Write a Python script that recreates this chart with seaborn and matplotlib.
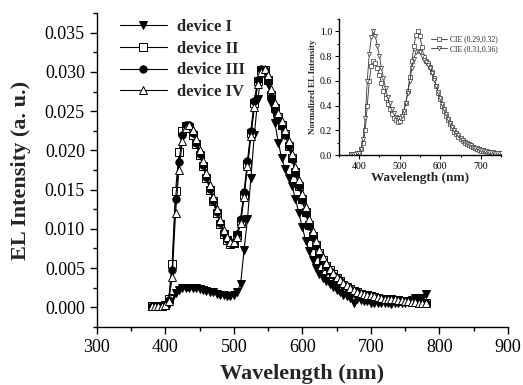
"""
EL spectra of devices I-IV with normalized CIE inset
"""

import numpy as np
import matplotlib
matplotlib.use("Agg")
import matplotlib.pyplot as plt
import matplotlib.ticker as mticker
import seaborn as sns

# ── Data ─────────────────────────────────────────────────────────────────────
wl = list(range(380, 785, 5))   # 380 ... 780 nm

dev1 = [0.0001, 0.0001, 0.0001, 0.0001, 0.0002, 0.0004, 0.0012, 0.0018, 0.0022, 0.0024,
        0.0025, 0.0025, 0.0024, 0.0024, 0.0023, 0.0022, 0.0021, 0.0020, 0.0019, 0.0017,
        0.0016, 0.0015, 0.0014, 0.0014, 0.0016, 0.0020, 0.0030, 0.0073, 0.0113, 0.0165,
        0.0220, 0.0265, 0.0295, 0.0302, 0.0285, 0.0260, 0.0235, 0.0210, 0.0190, 0.0176,
        0.0165, 0.0155, 0.0138, 0.0120, 0.0102, 0.0085, 0.0072, 0.0060, 0.0050, 0.0043,
        0.0037, 0.0033, 0.0030, 0.0026, 0.0022, 0.0019, 0.0016, 0.0014, 0.0012, 0.0005,
        0.0010, 0.0009, 0.0008, 0.0008, 0.0006, 0.0006, 0.0005, 0.0005, 0.0005, 0.0005,
        0.0004, 0.0005, 0.0005, 0.0005, 0.0006, 0.0007, 0.0009, 0.0012, 0.0009, 0.0012,
        0.0017]

dev2 = [0.0002, 0.0002, 0.0002, 0.0002, 0.0003, 0.0010, 0.0055, 0.0148, 0.0198, 0.0225,
        0.0231, 0.0230, 0.0220, 0.0208, 0.0194, 0.0180, 0.0165, 0.0150, 0.0135, 0.0120,
        0.0106, 0.0094, 0.0086, 0.0081, 0.0082, 0.0092, 0.0110, 0.0143, 0.0183, 0.0222,
        0.0260, 0.0288, 0.0302, 0.0302, 0.0290, 0.0270, 0.0254, 0.0242, 0.0232, 0.0221,
        0.0206, 0.0190, 0.0172, 0.0155, 0.0138, 0.0121, 0.0105, 0.0091, 0.0079, 0.0069,
        0.0060, 0.0053, 0.0047, 0.0042, 0.0037, 0.0033, 0.0029, 0.0026, 0.0023, 0.0021,
        0.0019, 0.0017, 0.0016, 0.0015, 0.0014, 0.0013, 0.0012, 0.0011, 0.0011, 0.0010,
        0.0010, 0.0009, 0.0009, 0.0008, 0.0008, 0.0008, 0.0007, 0.0007, 0.0006, 0.0006,
        0.0006]

dev3 = [0.0002, 0.0002, 0.0002, 0.0002, 0.0003, 0.0009, 0.0047, 0.0138, 0.0185, 0.0220,
        0.0232, 0.0232, 0.0222, 0.0210, 0.0195, 0.0181, 0.0166, 0.0151, 0.0136, 0.0121,
        0.0107, 0.0095, 0.0087, 0.0082, 0.0083, 0.0094, 0.0113, 0.0147, 0.0186, 0.0225,
        0.0263, 0.0290, 0.0304, 0.0303, 0.0289, 0.0268, 0.0252, 0.0241, 0.0231, 0.0220,
        0.0205, 0.0189, 0.0171, 0.0154, 0.0137, 0.0120, 0.0104, 0.0090, 0.0078, 0.0068,
        0.0059, 0.0052, 0.0046, 0.0041, 0.0037, 0.0033, 0.0029, 0.0026, 0.0023, 0.0021,
        0.0019, 0.0017, 0.0016, 0.0015, 0.0014, 0.0013, 0.0012, 0.0011, 0.0011, 0.0010,
        0.0010, 0.0009, 0.0009, 0.0008, 0.0008, 0.0008, 0.0007, 0.0007, 0.0006, 0.0006,
        0.0006]

dev4 = [0.0002, 0.0002, 0.0002, 0.0002, 0.0003, 0.0008, 0.0038, 0.0120, 0.0175, 0.0212,
        0.0228, 0.0232, 0.0226, 0.0214, 0.0200, 0.0186, 0.0171, 0.0156, 0.0140, 0.0125,
        0.0111, 0.0098, 0.0089, 0.0083, 0.0083, 0.0090, 0.0108, 0.0140, 0.0180, 0.0218,
        0.0255, 0.0284, 0.0300, 0.0304, 0.0296, 0.0278, 0.0260, 0.0247, 0.0237, 0.0226,
        0.0212, 0.0196, 0.0179, 0.0162, 0.0145, 0.0128, 0.0112, 0.0097, 0.0084, 0.0073,
        0.0064, 0.0056, 0.0049, 0.0044, 0.0039, 0.0035, 0.0031, 0.0028, 0.0025, 0.0022,
        0.0020, 0.0018, 0.0017, 0.0016, 0.0015, 0.0014, 0.0013, 0.0012, 0.0011, 0.0011,
        0.0010, 0.0010, 0.0009, 0.0009, 0.0008, 0.0008, 0.0007, 0.0007, 0.0006, 0.0006,
        0.0005]

wl_in = list(range(380, 755, 5))   # 380 ... 750 nm

cie_a = [0.01, 0.01, 0.01, 0.015, 0.02, 0.05, 0.10, 0.20, 0.40, 0.60,
         0.72, 0.76, 0.74, 0.70, 0.65, 0.58, 0.52, 0.46, 0.41, 0.37,
         0.33, 0.30, 0.28, 0.27, 0.275, 0.30, 0.35, 0.42, 0.52, 0.63,
         0.76, 0.88, 0.97, 1.00, 0.96, 0.87, 0.79, 0.76, 0.74, 0.71,
         0.67, 0.62, 0.56, 0.50, 0.45, 0.40, 0.36, 0.32, 0.28, 0.25,
         0.22, 0.19, 0.17, 0.15, 0.13, 0.115, 0.10, 0.09, 0.08, 0.07,
         0.062, 0.055, 0.048, 0.042, 0.037, 0.033, 0.030, 0.027, 0.024, 0.022,
         0.020, 0.018, 0.017, 0.016, 0.015]

cie_b = [0.01, 0.01, 0.01, 0.015, 0.02, 0.05, 0.13, 0.30, 0.60, 0.82,
         0.95, 1.00, 0.96, 0.88, 0.80, 0.70, 0.62, 0.54, 0.47, 0.42,
         0.37, 0.34, 0.31, 0.30, 0.30, 0.32, 0.36, 0.42, 0.50, 0.60,
         0.70, 0.78, 0.83, 0.84, 0.83, 0.80, 0.77, 0.75, 0.73, 0.70,
         0.66, 0.61, 0.56, 0.51, 0.46, 0.41, 0.37, 0.33, 0.29, 0.26,
         0.23, 0.20, 0.18, 0.16, 0.14, 0.125, 0.11, 0.10, 0.088, 0.078,
         0.069, 0.061, 0.054, 0.048, 0.043, 0.038, 0.034, 0.031, 0.028, 0.025,
         0.023, 0.021, 0.019, 0.018, 0.017]

# ── Style ────────────────────────────────────────────────────────────────────
sns.set_style("ticks")
plt.rcParams.update({
    "font.family": ["Liberation Serif", "DejaVu Serif"],
    "axes.linewidth": 1.0,
    "xtick.direction": "out",
    "ytick.direction": "out",
    "xtick.color": "black",
    "ytick.color": "black",
    "axes.edgecolor": "black",
})

fig = plt.figure(figsize=(5.23, 3.85), dpi=100)
ax = fig.add_axes([0.185, 0.151, 0.786, 0.815])

series = [
    ("device I",   dev1, "v", "black"),
    ("device II",  dev2, "s", "white"),
    ("device III", dev3, "o", "black"),
    ("device IV",  dev4, "^", "white"),
]
for name, ys, mk, fc in series:
    sns.lineplot(x=wl, y=ys, ax=ax, color="black", linewidth=0.8, marker=mk,
                 markersize=5.3, markerfacecolor=fc, markeredgecolor="black",
                 markeredgewidth=0.7, label=name)

ax.set_xlim(300, 900)
ax.set_ylim(-0.0025, 0.0375)
ax.xaxis.set_major_locator(mticker.MultipleLocator(100))
ax.xaxis.set_minor_locator(mticker.MultipleLocator(50))
ax.yaxis.set_major_locator(mticker.MultipleLocator(0.005))
ax.yaxis.set_minor_locator(mticker.MultipleLocator(0.0025))
ax.yaxis.set_major_formatter(mticker.FormatStrFormatter("%.3f"))
ax.set_yticks([0, 0.005, 0.01, 0.015, 0.02, 0.025, 0.03, 0.035])
ax.tick_params(which="major", length=5, width=1, labelsize=13)
ax.tick_params(which="minor", length=3, width=1)
sns.despine(ax=ax)
ax.set_xlabel("Wavelength (nm)", fontsize=16, fontweight="bold", labelpad=6)
ax.set_ylabel("EL Intensity (a. u.)", fontsize=16, fontweight="bold", labelpad=10)

leg = ax.legend(loc="upper left", bbox_to_anchor=(0.02, 1.03), frameon=False,
                handlelength=2.8, handletextpad=0.6, labelspacing=0.35,
                prop={"weight": "bold", "size": 12})

# ── Inset ────────────────────────────────────────────────────────────────────
axin = fig.add_axes([0.648, 0.597, 0.310, 0.354])
sns.lineplot(x=wl_in, y=cie_a, ax=axin, color="#333333", linewidth=0.6, marker="s",
             markersize=2.6, markerfacecolor="white", markeredgecolor="#333333",
             markeredgewidth=0.5, label="CIE (0.29,0.32)")
sns.lineplot(x=wl_in, y=cie_b, ax=axin, color="#333333", linewidth=0.6, marker="v",
             markersize=3, markerfacecolor="white", markeredgecolor="#333333",
             markeredgewidth=0.5, label="CIE (0.31,0.36)")
axin.set_xlim(350, 750)
axin.set_ylim(0, 1.1)
axin.xaxis.set_major_locator(mticker.MultipleLocator(100))
axin.xaxis.set_minor_locator(mticker.MultipleLocator(50))
axin.yaxis.set_major_locator(mticker.MultipleLocator(0.2))
axin.yaxis.set_minor_locator(mticker.MultipleLocator(0.1))
axin.yaxis.set_major_formatter(mticker.FormatStrFormatter("%.1f"))
axin.set_xticks([400, 500, 600, 700])
axin.tick_params(which="major", length=3, width=0.8, labelsize=7, pad=2)
axin.tick_params(which="minor", length=1.5, width=0.8)
sns.despine(ax=axin)
axin.set_xlabel("Wavelength (nm)", fontsize=9.5, fontweight="bold", labelpad=1)
axin.set_ylabel("Normalized EL Intensity", fontsize=6.5, fontweight="bold", labelpad=2)
axin.legend(loc="upper right", bbox_to_anchor=(1.02, 0.93), frameon=False,
            fontsize=5.5, handlelength=2.2, handletextpad=0.3, labelspacing=0.2)

plt.savefig("out.png", dpi=100)
plt.close()
